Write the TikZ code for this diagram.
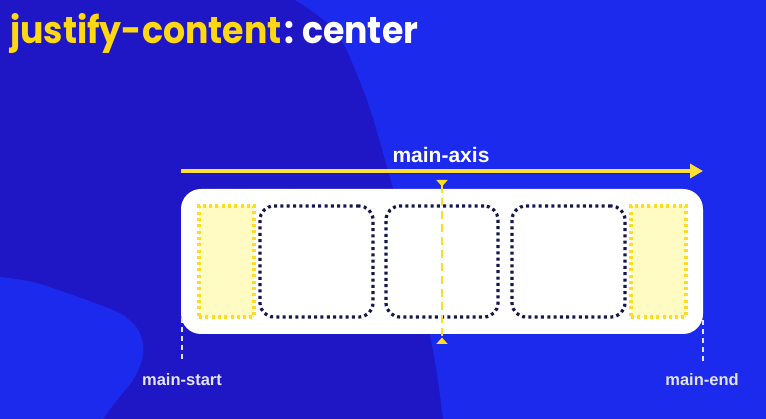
\documentclass[tikz,border=0pt]{standalone}
\usepackage{fontspec}
\usepackage{graphicx}
\setmainfont{Liberation Sans}
\newfontfamily\titlefont{Poppins}
\usetikzlibrary{arrows.meta}
\definecolor{bgdark}{HTML}{1F17C6}
\definecolor{bgbright}{HTML}{1B2AEC}
\definecolor{ttlyellow}{HTML}{FFD814}
\definecolor{axyellow}{HTML}{FFE033}
\definecolor{dotyellow}{HTML}{FFDC1E}
\definecolor{softyellow}{HTML}{FFFBC2}
\definecolor{dotnavy}{HTML}{15164A}
\definecolor{lblgray}{HTML}{E4E4EC}
\tikzset{
  itembox/.style={draw=dotnavy, line width=3.2pt, dash pattern=on 3pt off 3.3pt, rounded corners=14pt, minimum width=113pt, minimum height=111pt, inner sep=0pt},
  spacebox/.style={draw=dotyellow, fill=softyellow, line width=3.2pt, dash pattern=on 3pt off 3.3pt, minimum width=55pt, minimum height=111pt, inner sep=0pt},
  container/.style={fill=white, rounded corners=20pt, minimum width=522pt, minimum height=145pt, inner sep=0pt},
  edgelabel/.style={text=lblgray, font=\bfseries\fontsize{16.5}{16.5}\selectfont, inner sep=0pt},
  edgeline/.style={draw=lblgray, line width=1.5pt, dash pattern=on 5pt off 4pt},
}
\begin{document}
\begin{tikzpicture}[x=1pt,y=-1pt]
\useasboundingbox (0,0) rectangle (766,419);
% background
\fill[bgdark] (0,0) rectangle (766,419);
\fill[bgbright] plot[smooth] coordinates {(295,0) (337,33) (367,100) (387,167) (410,250) (433,350) (443,419)} -- (766,419) -- (766,0) -- cycle;
\fill[bgbright] plot[smooth] coordinates {(0,277) (33,282) (67,293) (100,305) (123,315) (137,328) (143,343) (142,360) (133,380) (117,400) (103,419)} -- (0,419) -- cycle;
% title
\node[anchor=base west, inner sep=0pt] (title) at (10,44)
  {\resizebox*{408pt}{40pt}{\titlefont\bfseries\color{ttlyellow}justify-content\kern1pt\color{white}:\ center}};
% main axis
\coordinate (axs) at (181,171);
\coordinate (axe) at (703,171);
\draw[line width=2pt, draw=bgdark!70!black, opacity=0.6] (181,172.8) -- (690,172.8);
\draw[axyellow, line width=3.4pt, -{Triangle[length=13pt,width=14pt]}] (axs) -- (axe);
\node[text=white, font=\bfseries\fontsize{21}{21}\selectfont, inner sep=0pt] (axlabel) at (441,155) {main-axis};
% container
\node[container] (box) at (442,261.5) {};
\node[spacebox] (sl) at (226.5,261.5) {};
\node[itembox] (i1) at (316.5,261.5) {};
\node[itembox, minimum width=112pt] (i2) at (442,261.5) {};
\node[itembox] (i3) at (568.5,261.5) {};
\node[spacebox] (sr) at (658.5,261.5) {};
% centre line
\coordinate (ct) at (442,180);
\coordinate (cb) at (442,344);
\draw[dotyellow, line width=2.8pt, dash pattern=on 8pt off 5pt, {Triangle[reversed,length=6.5pt,width=11pt]}-{Triangle[reversed,length=6.5pt,width=11pt]}] (ct) -- (cb);
% main start / end
\node[edgelabel] (mstart) at (182,380) {main-start};
\node[edgelabel] (mend) at (702,380) {main-end};
\coordinate (mst) at (182,318);
\coordinate (met) at (703,320);
\draw[edgeline] (mst) -- ([yshift=13pt]mstart.north -| mst);
\draw[edgeline] (met) -- ([yshift=13pt]mend.north -| met);
\end{tikzpicture}
\end{document}
